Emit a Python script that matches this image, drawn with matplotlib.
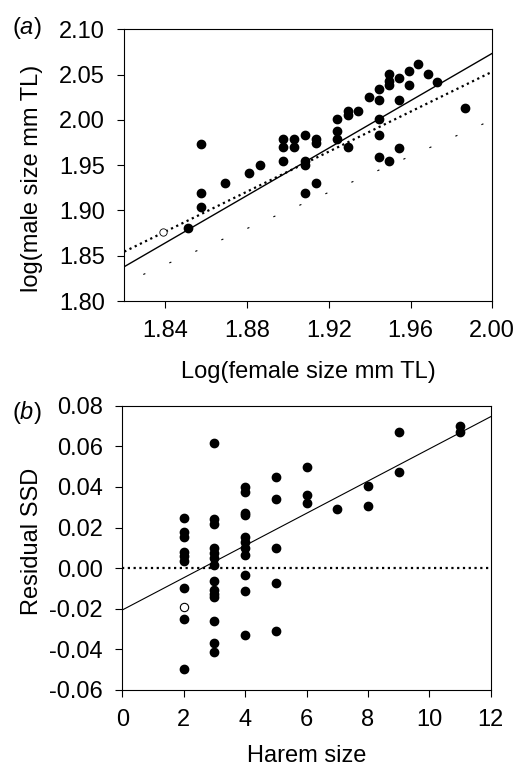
import matplotlib
matplotlib.use("Agg")
import matplotlib.pyplot as plt
import numpy as np

plt.rcParams['font.family'] = ['Liberation Sans', 'DejaVu Sans']
plt.rcParams['font.size'] = 17
plt.rcParams['mathtext.fontset'] = 'custom'
plt.rcParams['mathtext.rm'] = 'Liberation Sans'
plt.rcParams['mathtext.it'] = 'Liberation Sans:italic'

# panel (a): log female size vs log male size
female = [1.8513, 1.8574, 1.8574, 1.8574, 1.8693, 1.8808, 1.8864,
          1.8975, 1.8975, 1.8975, 1.9030, 1.9030,
          1.9085, 1.9085, 1.9085, 1.9085, 1.9138, 1.9138, 1.9138,
          1.9242, 1.9242, 1.9242, 1.9294, 1.9294, 1.9294, 1.9343, 1.9395,
          1.9444, 1.9444, 1.9444, 1.9444, 1.9444,
          1.9493, 1.9493, 1.9493, 1.9493, 1.9542, 1.9542, 1.9542,
          1.9591, 1.9591, 1.9637, 1.9686, 1.9731, 1.9868]
male = [1.8810, 1.9737, 1.9193, 1.9035, 1.9300, 1.9410, 1.9500,
        1.9786, 1.9697, 1.9550, 1.9786, 1.9697,
        1.9830, 1.9550, 1.9500, 1.9196, 1.9786, 1.9741, 1.9300,
        2.0006, 1.9877, 1.9786, 2.0098, 2.0050, 1.9697, 2.0095, 2.0256,
        2.0341, 2.0220, 2.0006, 1.9833, 1.9594,
        2.0506, 2.0433, 2.0385, 1.9546, 2.0460, 2.0220, 1.9693,
        2.0540, 2.0385, 2.0617, 2.0506, 2.0422, 2.0134]
outlier_a = (1.8391, 1.8759)

fit_a_x = [1.82, 2.00]
fit_a_y = [1.8379, 2.0735]
fit_a2_y = [1.8545, 2.0532]
iso_x = [1.82, 2.00]
iso_y = [1.82, 2.00]

# panel (b): harem size vs residual SSD
harem = [2] * 9 + [3] * 14 + [4] * 11 + [5] * 5 + [6] * 3 + [7] + [8] * 2 + [9] * 2 + [11] * 2
resid = [0.0245, 0.0180, 0.0152, 0.0080, 0.0058, 0.0036, -0.0096, -0.0251, -0.0496,
         0.0618, 0.0241, 0.0218, 0.0101, 0.0073, 0.0049, 0.0016,
         -0.0063, -0.0107, -0.0128, -0.0140, -0.0258, -0.0370, -0.0411,
         0.0400, 0.0375, 0.0270, 0.0262, 0.0155, 0.0131, 0.0098, 0.0065, -0.0033, -0.0111, -0.0329,
         0.0450, 0.0340, 0.0100, -0.0075, -0.0310,
         0.0500, 0.0360, 0.0320,
         0.0290,
         0.0405, 0.0305,
         0.0670, 0.0475,
         0.0700, 0.0670]
outlier_b = (2, -0.0189)

fit_b_x = [0, 12]
fit_b_y = [-0.0206, 0.0746]

W, H = 519, 769
fig = plt.figure(figsize=(W / 100, H / 100), dpi=100)

ax1 = fig.add_axes([124.3 / W, 1 - 301 / H, 368 / W, 271.7 / H])
ax1.plot(iso_x, iso_y, color='black', lw=0.8, ls=(6.9, (2, 23.6)))
ax1.plot(fit_a_x, fit_a2_y, color='black', lw=1.6, ls=(0, (1, 1.6)))
ax1.plot(fit_a_x, fit_a_y, color='black', lw=1.0)
ax1.scatter(female, male, s=36, color='black', zorder=3)
ax1.scatter([outlier_a[0]], [outlier_a[1]], s=28, facecolor='white',
            edgecolor='black', linewidth=0.6, zorder=3)
ax1.set_xlim(1.82, 2.00)
ax1.set_ylim(1.80, 2.10)
ax1.set_xticks([1.84, 1.88, 1.92, 1.96, 2.00])
ax1.set_xticklabels(["1.84", "1.88", "1.92", "1.96", "2.00"])
ax1.set_yticks(np.arange(1.80, 2.101, 0.05))
ax1.set_yticklabels(["1.80", "1.85", "1.90", "1.95", "2.00", "2.05", "2.10"])
ax1.set_xlabel("Log(female size mm TL)", va='center')
ax1.set_ylabel("log(male size mm TL)", va='center')
ax1.xaxis.set_label_coords(0.5, -0.26)
ax1.yaxis.set_label_coords(-0.251, 0.45)

ax2 = fig.add_axes([122.3 / W, 1 - 690 / H, 368.4 / W, 284.3 / H])
ax2.axhline(0, color='black', lw=1.6, ls=(0, (1, 1.6)))
ax2.plot(fit_b_x, fit_b_y, color='black', lw=0.8)
ax2.scatter(harem, resid, s=36, color='black', zorder=3)
ax2.scatter([outlier_b[0]], [outlier_b[1]], s=36, facecolor='white',
            edgecolor='black', linewidth=0.8, zorder=3)
ax2.set_xlim(0, 12)
ax2.set_ylim(-0.06, 0.08)
ax2.set_xticks(range(0, 13, 2))
ax2.set_yticks(np.arange(-0.06, 0.081, 0.02))
ax2.set_yticklabels(["-0.06", "-0.04", "-0.02", "0.00", "0.02", "0.04", "0.06", "0.08"])
ax2.set_xlabel("Harem size", va='center')
ax2.set_ylabel("Residual SSD", va='center')
ax2.xaxis.set_label_coords(0.5, -0.232)
ax2.yaxis.set_label_coords(-0.245, 0.524)

for ax in (ax1, ax2):
    for sp in ax.spines.values():
        sp.set_linewidth(0.8)
    ax.tick_params(direction='out', length=5, width=0.8, labelsize=17, pad=9)

fig.text(12 / W, 1 - 28 / H, r"($\mathit{a}$)", ha='left', va='center', fontsize=17)
fig.text(12 / W, 1 - 412 / H, r"($\mathit{b}$)", ha='left', va='center', fontsize=17)

fig.savefig("out.png", dpi=100)
